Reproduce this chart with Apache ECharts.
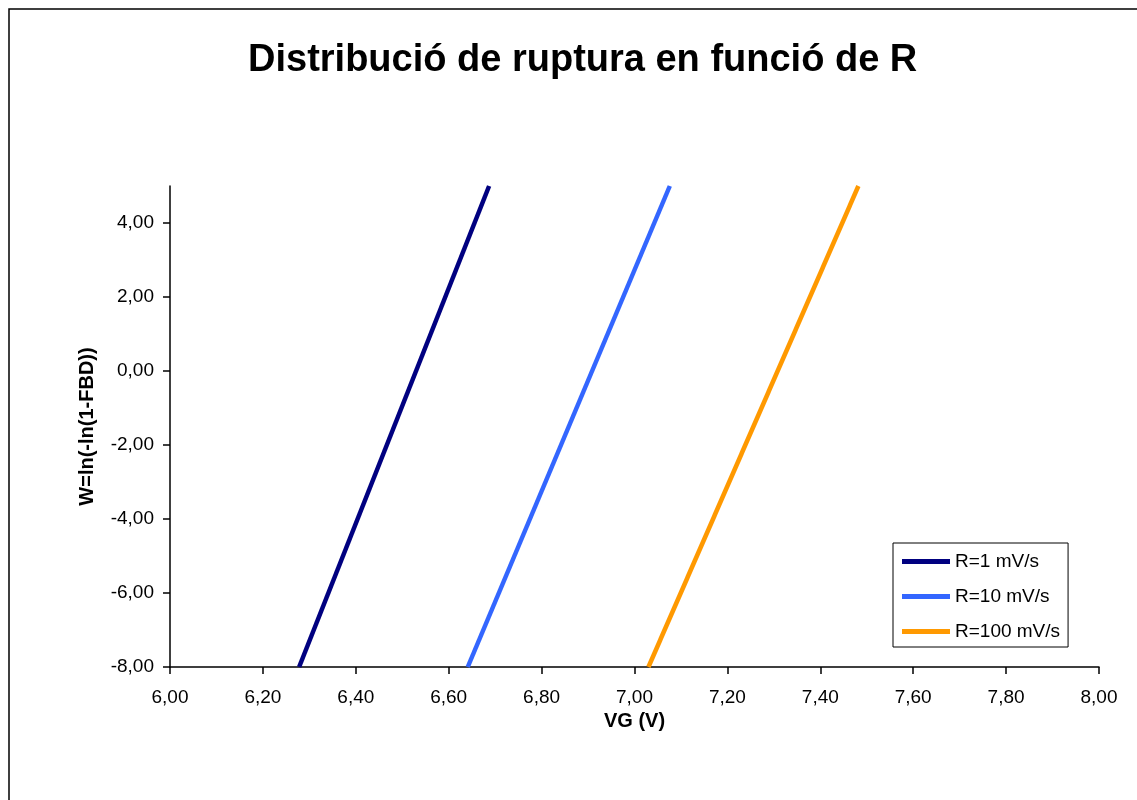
<!DOCTYPE html>
<html>
<head>
<meta charset="utf-8">
<script src="https://cdn.jsdelivr.net/npm/echarts@6/dist/echarts.min.js"></script>
<style>html,body{margin:0;padding:0;background:#fff}#c{width:1137px;height:800px}</style>
</head>
<body>
<div id="c"></div>
<script>
const titleText = 'Distribució de ruptura en funció de R';
const seriesNames = ['R=1 mV/s', 'R=10 mV/s', 'R=100 mV/s'];
const wValues = [-8, 5];
const vgR1 = [6.278, 6.687];
const vgR10 = [6.641, 7.076];
const vgR100 = [7.030, 7.482];
const yTicks = [-8, -6, -4, -2, 0, 2, 4];
const colors = ['#000080', '#3366FF', '#FF9900'];

const fmt = v => Number(v).toFixed(2).replace('.', ',');
const pairs = xs => xs.map((x, i) => [x, wValues[i]]);
const allX = [vgR1, vgR10, vgR100];
const FF = 'Liberation Sans, Arial, sans-serif';

const chart = echarts.init(document.getElementById('c'));
chart.setOption({
  animation: false,
  backgroundColor: '#fff',
  textStyle: { fontFamily: FF },
  graphic: [{
    type: 'rect', shape: { x: 9, y: 9, width: 1300, height: 1000 },
    style: { fill: 'none', stroke: '#000', lineWidth: 1.5 }, silent: true
  }],
  title: {
    text: titleText, left: 243, top: 37,
    textStyle: { fontSize: 38, fontWeight: 'bold', color: '#000', fontFamily: FF }
  },
  grid: { left: 170, right: 38, top: 186, bottom: 133, containLabel: false },
  legend: {
    orient: 'vertical', left: 893, top: 543,
    data: seriesNames,
    backgroundColor: '#fff', borderColor: '#000', borderWidth: 1,
    padding: [9, 8, 6, 9], itemGap: 16,
    itemWidth: 48, itemHeight: 5, icon: 'rect',
    textStyle: { fontSize: 19, color: '#000', fontFamily: FF }
  },
  xAxis: {
    type: 'value', min: 6, max: 8, interval: 0.2,
    name: 'VG (V)', nameLocation: 'middle', nameGap: 44,
    nameTextStyle: { fontSize: 20, fontWeight: 'bold', color: '#000' },
    axisLine: { show: true, onZero: false, lineStyle: { color: '#000', width: 1.5 } },
    axisTick: { show: true, length: 7, lineStyle: { color: '#000', width: 1.5 } },
    axisLabel: { formatter: fmt, fontSize: 19, color: '#000', margin: 21 },
    splitLine: { show: false }
  },
  yAxis: {
    type: 'value', min: -8, max: 5, interval: 2,
    name: 'W=ln(-ln(1-FBD))', nameLocation: 'middle', nameGap: 73, nameRotate: 90,
    nameTextStyle: { fontSize: 20, fontWeight: 'bold', color: '#000' },
    axisLine: { show: true, onZero: false, lineStyle: { color: '#000', width: 1.5 } },
    axisTick: { show: true, length: 7, customValues: yTicks, lineStyle: { color: '#000', width: 1.5 } },
    axisLabel: { formatter: fmt, fontSize: 19, color: '#000', margin: 16, customValues: yTicks },
    splitLine: { show: false }
  },
  series: seriesNames.map((n, i) => ({
    name: n, type: 'line', data: pairs(allX[i]),
    symbol: 'none', clip: true,
    lineStyle: { color: colors[i], width: 4.5 },
    itemStyle: { color: colors[i] }
  }))
});
</script>
</body>
</html>
